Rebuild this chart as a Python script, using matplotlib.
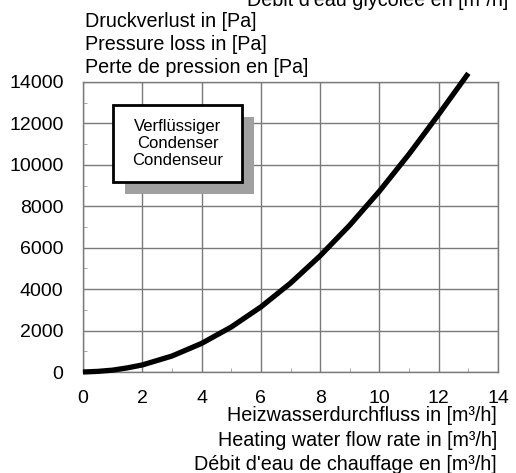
import matplotlib.pyplot as plt
from matplotlib.patches import Rectangle

plt.rcParams['font.family'] = ['Liberation Sans', 'DejaVu Sans']

# flow rate [m3/h] and pressure loss [Pa]
flow = [0, 0.5, 1, 1.5, 2, 3, 4, 5, 6, 7, 8, 9, 10, 11, 12, 13]
dp = [0, 30, 90, 200, 340, 770, 1380, 2170, 3140, 4290, 5610, 7090, 8730, 10520, 12440, 14420]

ylabels = ["Druckverlust in [Pa]", "Pressure loss in [Pa]", "Perte de pression en [Pa]"]
xlabels = ["Heizwasserdurchfluss in [m\u00b3/h]", "Heating water flow rate in [m\u00b3/h]",
           "D\u00e9bit d'eau de chauffage en [m\u00b3/h]"]
top_label = "D\u00e9bit d'eau glycol\u00e9e en [m\u00b3/h]"
box_text = "Verfl\u00fcssiger\nCondenser\nCondenseur"

W, H = 516, 473
fig = plt.figure(figsize=(W / 100, H / 100), dpi=100)
ax = fig.add_axes([83 / W, 1 - 372 / H, 415 / W, 290 / H])

ax.plot(flow, dp, color='black', lw=3.8, solid_capstyle='butt', solid_joinstyle='round',
        zorder=5, clip_on=False)

ax.set_xlim(0, 14)
ax.set_ylim(0, 14000)
ax.set_xticks(range(0, 15, 2))
ax.set_yticks(range(0, 14001, 2000))
ax.set_xticks(range(1, 14, 2), minor=True)
ax.set_yticks(range(1000, 14000, 2000), minor=True)
ax.grid(True, which='major', color='#7a7a7a', lw=1)
for s in ax.spines.values():
    s.set_color('#7a7a7a')
    s.set_linewidth(1)
ax.tick_params(which='major', length=0, labelsize=14)
ax.tick_params(axis='y', which='major', pad=14)
ax.tick_params(axis='x', which='major', pad=13)
ax.tick_params(which='minor', direction='in', length=3, color='#9a9a9a')

# boxed label with shadow
bx0, by0, bw, bh = (113 - 83) / 415, (372 - 182) / 290, (242 - 113) / 415, (182 - 105) / 290
ax.add_patch(Rectangle((bx0 + 12 / 415, by0 - 12 / 290), bw, bh, transform=ax.transAxes,
                       facecolor='#a0a0a0', edgecolor='none', zorder=6))
ax.add_patch(Rectangle((bx0, by0), bw, bh, transform=ax.transAxes,
                       facecolor='white', edgecolor='black', lw=2, zorder=7))
ax.text(bx0 + bw / 2, by0 + bh / 2, box_text, transform=ax.transAxes, ha='center', va='center',
        fontsize=12, linespacing=1.15, zorder=8)

for i, t in enumerate(ylabels):
    fig.text(85 / W, 1 - (27 + 23 * i) / H, t, ha='left', va='baseline', fontsize=14.2)
for i, t in enumerate(xlabels):
    fig.text(497 / W, 1 - (421 + 24.5 * i) / H, t, ha='right', va='baseline', fontsize=14.2)
fig.text(508 / W, 1 - 6 / H, top_label, ha='right', va='baseline', fontsize=14.2)

fig.savefig('out.png', dpi=100)
